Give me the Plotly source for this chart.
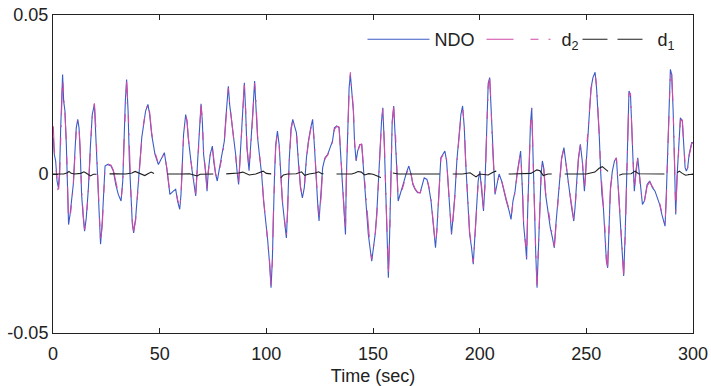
import plotly.graph_objects as go

# ---- data ----
time_ndo = [0.15, 0.6, 1.25, 1.9, 2.5, 3.1, 3.6, 4.1, 4.5, 5.0, 5.6, 6.25, 6.9, 7.3, 8.0, 8.75, 9.5, 10.3, 10.9, 11.6,
            12.2, 12.8, 13.4, 14.2, 14.8, 15.6, 16.6, 17.5, 18.4, 19.4, 20.0, 20.8, 21.6, 22.3, 23.1, 23.75, 24.4, 25.6, 27.2, 28.3,
            29.4, 30.6, 31.9, 32.7, 33.3, 33.9, 34.5, 35.2, 35.8, 36.6, 37.2, 37.8, 38.75, 39.7, 40.6, 41.6, 42.5, 43.4, 44.5, 45.3,
            46.25, 47.2, 47.8, 49.4, 50.9, 52.2, 53.3, 54.1, 54.8, 56.4, 57.5, 58.4, 59.4, 60.0, 60.6, 61.2, 62.2, 62.8, 63.4, 64.1,
            65.0, 65.9, 66.9, 67.8, 68.6, 69.4, 70.0, 70.6, 71.6, 72.2, 72.8, 73.7, 74.7, 75.3, 76.2, 77.0, 77.8, 78.7, 79.7, 80.3,
            80.9, 81.6, 82.2, 82.8, 83.7, 84.7, 85.6, 86.4, 87.0, 87.6, 88.4, 89.1, 89.7, 90.3, 90.9, 91.9, 92.8, 93.7, 94.5, 95.1,
            95.9, 96.9, 97.8, 98.7, 99.7, 100.6, 101.5, 102.2, 102.8, 103.3, 103.8, 104.4, 105.2, 106.0, 106.6, 107.5, 108.5, 109.4, 110.0, 110.7,
            111.6, 112.4, 113.2, 114.1, 115.0, 116.0, 116.9, 117.8, 118.8, 119.7, 120.8, 121.7, 122.5, 123.3, 124.1, 124.7, 125.7, 126.4, 127.5, 128.8,
            129.9, 131.0, 131.9, 133.0, 134.1, 135.0, 136.0, 136.6, 137.1, 137.5, 138.2, 138.8, 139.4, 140.0, 140.8, 141.4, 142.1, 142.8, 143.8, 144.7,
            145.5, 146.3, 147.0, 147.8, 148.6, 149.4, 150.2, 151.0, 151.8, 152.5, 153.2, 154.0, 154.6, 155.3, 155.9, 156.5, 157.2, 157.8, 158.4, 159.0,
            159.7, 160.6, 161.2, 161.8, 162.8, 163.7, 165.0, 165.9, 166.8, 167.8, 168.7, 169.7, 170.9, 172.1, 173.1, 174.0, 175.3, 176.2, 177.2, 177.8,
            178.7, 179.3, 180.0, 180.6, 181.2, 181.8, 182.8, 183.7, 184.5, 185.3, 186.2, 186.8, 187.5, 188.4, 189.3, 190.3, 191.2, 192.0, 192.8, 193.4,
            194.3, 195.3, 196.2, 197.0, 197.8, 198.6, 199.3, 200.1, 200.9, 201.8, 202.5, 203.2, 204.0, 204.7, 205.3, 205.9, 206.6, 207.2, 208.1, 209.1,
            210.3, 211.3, 212.5, 213.8, 214.7, 215.6, 216.6, 217.5, 218.4, 219.2, 220.0, 220.6, 221.6, 222.0, 222.5, 223.1, 223.8, 224.4, 225.0, 225.6,
            226.3, 226.9, 227.5, 228.1, 228.8, 229.4, 230.0, 230.9, 232.2, 233.1, 234.1, 235.0, 235.6, 236.6, 237.5, 238.4, 239.5, 240.3, 241.3, 242.2,
            243.1, 244.1, 244.7, 245.5, 246.3, 247.2, 248.1, 249.1, 249.7, 250.3, 251.3, 252.2, 253.1, 254.1, 254.8, 255.5, 256.1, 256.7, 257.3, 258.0,
            258.8, 259.4, 260.0, 260.7, 261.3, 262.2, 263.2, 264.1, 264.7, 265.7, 266.3, 266.9, 267.5, 268.2, 268.8, 269.4, 270.0, 270.7, 271.3, 271.9,
            272.5, 273.2, 274.1, 274.7, 275.3, 276.3, 277.2, 278.5, 279.7, 281.0, 282.2, 283.2, 284.4, 285.4, 286.3, 286.9, 287.5, 288.2, 288.8, 289.4,
            290.0, 290.7, 291.3, 291.9, 292.5, 293.2, 294.1, 295.0, 295.7, 296.3, 296.9, 297.5, 298.2, 298.8, 299.4, 300.0]

ndo = [0.0114, 0.0062, 0.0041, -0.0022, -0.0043, 0.0009, 0.0145, 0.0250, 0.0313, 0.0229, 0.0198, 0.0093, -0.0064, -0.0159, -0.0127, -0.0085, -0.0033, 0.0072, 0.0145, 0.0172,
       0.0145, 0.0062, -0.0064, -0.0138, -0.0180, -0.0138, -0.0043, 0.0083, 0.0187, 0.0219, 0.0145, 0.0009, -0.0117, -0.0221, -0.0148, -0.0043, 0.0025, 0.0030, 0.0025, 0.0009,
       -0.0033, -0.0064, -0.0085, -0.0022, 0.0114, 0.0229, 0.0297, 0.0198, 0.0041, -0.0085, -0.0159, -0.0185, -0.0138, -0.0054, 0.0041, 0.0114, 0.0156, 0.0198, 0.0219, 0.0187,
       0.0124, 0.0083, 0.0062, 0.0030, 0.0051, 0.0067, 0.0019, -0.0033, -0.0064, -0.0054, -0.0048, -0.0085, -0.0111, -0.0064, 0.0041, 0.0124, 0.0187, 0.0166, 0.0114, 0.0062,
       0.0020, -0.0022, -0.0069, 0.0041, 0.0145, 0.0221, 0.0166, 0.0062, 0.0000, -0.0054, 0.0010, 0.0062, 0.0088, 0.0041, 0.0000, -0.0022, 0.0010, 0.0041, 0.0072, 0.0103,
       0.0166, 0.0229, 0.0276, 0.0219, 0.0166, 0.0124, 0.0062, 0.0000, -0.0033, 0.0041, 0.0145, 0.0229, 0.0287, 0.0198, 0.0083, 0.0010, 0.0093, 0.0198, 0.0292, 0.0229,
       0.0114, 0.0051, 0.0000, -0.0085, -0.0145, -0.0205, -0.0280, -0.0358, -0.0274, -0.0116, -0.0012, 0.0093, 0.0135, 0.0093, 0.0009, -0.0085, -0.0148, -0.0201, -0.0106, 0.0041,
       0.0145, 0.0172, 0.0151, 0.0130, 0.0041, -0.0043, -0.0075, -0.0043, 0.0051, 0.0103, 0.0145, 0.0172, 0.0093, -0.0022, -0.0096, -0.0148, -0.0064, 0.0020, 0.0051, 0.0062,
       0.0083, 0.0103, 0.0145, 0.0151, 0.0145, 0.0041, -0.0064, -0.0138, -0.0190, -0.0012, 0.0145, 0.0271, 0.0313, 0.0271, 0.0198, 0.0093, 0.0041, 0.0072, 0.0093, 0.0093,
       0.0020, -0.0064, -0.0127, -0.0190, -0.0232, -0.0274, -0.0232, -0.0190, -0.0120, -0.0043, 0.0062, 0.0166, 0.0208, 0.0093, -0.0064, -0.0190, -0.0326, -0.0190, 0.0041, 0.0166,
       0.0214, 0.0114, 0.0009, -0.0085, -0.0064, -0.0043, -0.0012, 0.0009, 0.0025, 0.0000, -0.0033, -0.0048, -0.0059, -0.0059, -0.0033, -0.0012, -0.0017, -0.0043, -0.0085, -0.0127,
       -0.0169, -0.0232, -0.0169, -0.0085, 0.0009, 0.0051, 0.0062, 0.0072, 0.0041, -0.0043, -0.0127, -0.0190, -0.0138, -0.0064, 0.0041, 0.0114, 0.0187, 0.0214, 0.0145, 0.0041,
       -0.0085, -0.0190, -0.0232, -0.0284, -0.0190, -0.0085, -0.0022, 0.0009, -0.0043, -0.0116, -0.0030, 0.0120, 0.0285, 0.0303, 0.0219, 0.0093, 0.0009, -0.0064, -0.0033, 0.0000,
       -0.0022, -0.0054, -0.0085, -0.0116, -0.0143, -0.0085, -0.0054, 0.0000, 0.0041, 0.0072, -0.0043, -0.0159, -0.0232, -0.0269, -0.0116, 0.0041, 0.0156, 0.0208, 0.0041, -0.0116,
       -0.0253, -0.0358, -0.0232, -0.0096, 0.0000, 0.0041, 0.0020, -0.0064, -0.0127, -0.0169, -0.0200, -0.0232, -0.0169, -0.0085, 0.0000, 0.0051, 0.0083, 0.0041, -0.0022, -0.0064,
       -0.0106, -0.0148, -0.0106, -0.0022, 0.0051, 0.0093, 0.0041, -0.0054, 0.0010, 0.0103, 0.0198, 0.0271, 0.0303, 0.0320, 0.0270, 0.0200, 0.0114, 0.0009, -0.0064, -0.0106,
       -0.0190, -0.0274, -0.0295, -0.0169, -0.0043, 0.0009, 0.0041, 0.0051, -0.0012, -0.0106, -0.0190, -0.0253, -0.0321, -0.0190, -0.0012, 0.0166, 0.0261, 0.0250, 0.0166, 0.0041,
       -0.0054, 0.0009, 0.0051, 0.0009, -0.0043, -0.0096, -0.0085, -0.0033, -0.0022, -0.0043, -0.0054, -0.0075, -0.0096, -0.0127, -0.0148, -0.0164, -0.0064, 0.0093, 0.0251, 0.0329,
       0.0313, 0.0198, 0.0041, -0.0127, -0.0012, 0.0093, 0.0177, 0.0166, 0.0083, 0.0020, 0.0009, 0.0020, 0.0062, 0.0083, 0.0099, 0.0099]

d2 = [0.0150, 0.0075, 0.0030, -0.0035, -0.0065, -0.0005, 0.0130, 0.0240, 0.0305, 0.0240, 0.0190, 0.0100, -0.0050, -0.0150, -0.0140, -0.0090, -0.0040, 0.0060, 0.0140, 0.0168,
      0.0150, 0.0070, -0.0050, -0.0130, -0.0175, -0.0145, -0.0050, 0.0075, 0.0180, 0.0222, 0.0155, 0.0020, -0.0105, -0.0215, -0.0160, -0.0050, 0.0020, 0.0032, 0.0028, 0.0012,
      -0.0028, -0.0060, -0.0082, -0.0030, 0.0100, 0.0220, 0.0290, 0.0210, 0.0050, -0.0075, -0.0150, -0.0180, -0.0145, -0.0060, 0.0035, 0.0108, 0.0160, 0.0195, 0.0222, 0.0195,
      0.0130, 0.0088, 0.0068, 0.0032, 0.0048, 0.0064, 0.0022, -0.0028, -0.0060, -0.0057, -0.0050, -0.0080, -0.0105, -0.0070, 0.0030, 0.0115, 0.0180, 0.0170, 0.0120, 0.0065,
      0.0025, -0.0015, -0.0062, 0.0030, 0.0138, 0.0215, 0.0172, 0.0070, 0.0005, -0.0050, 0.0005, 0.0058, 0.0085, 0.0045, 0.0003, -0.0020, 0.0006, 0.0038, 0.0068, 0.0100,
      0.0160, 0.0222, 0.0270, 0.0225, 0.0170, 0.0128, 0.0068, 0.0005, -0.0030, 0.0035, 0.0140, 0.0222, 0.0280, 0.0205, 0.0090, 0.0015, 0.0088, 0.0190, 0.0285, 0.0235,
      0.0120, 0.0055, 0.0005, -0.0078, -0.0140, -0.0198, -0.0272, -0.0350, -0.0280, -0.0125, -0.0020, 0.0085, 0.0130, 0.0098, 0.0015, -0.0078, -0.0142, -0.0195, -0.0112, 0.0032,
      0.0138, 0.0168, 0.0155, 0.0132, 0.0048, -0.0038, -0.0070, -0.0048, 0.0045, 0.0098, 0.0140, 0.0168, 0.0100, -0.0015, -0.0090, -0.0142, -0.0070, 0.0015, 0.0048, 0.0060,
      0.0080, 0.0100, 0.0140, 0.0150, 0.0148, 0.0050, -0.0055, -0.0130, -0.0180, -0.0020, 0.0135, 0.0262, 0.0320, 0.0278, 0.0205, 0.0100, 0.0045, 0.0068, 0.0090, 0.0095,
      0.0028, -0.0055, -0.0120, -0.0182, -0.0225, -0.0268, -0.0238, -0.0195, -0.0128, -0.0050, 0.0055, 0.0160, 0.0205, 0.0100, -0.0055, -0.0182, -0.0318, -0.0200, 0.0030, 0.0158,
      0.0210, 0.0120, 0.0015, -0.0078, -0.0068, -0.0046, -0.0015, 0.0006, 0.0022, 0.0002, -0.0030, -0.0046, -0.0057, -0.0060, -0.0036, -0.0015, -0.0015, -0.0040, -0.0080, -0.0120,
      -0.0162, -0.0225, -0.0175, -0.0092, 0.0002, 0.0048, 0.0060, 0.0070, 0.0045, -0.0035, -0.0120, -0.0185, -0.0145, -0.0070, 0.0035, 0.0108, 0.0180, 0.0210, 0.0150, 0.0048,
      -0.0078, -0.0182, -0.0228, -0.0278, -0.0198, -0.0092, -0.0028, 0.0005, -0.0038, -0.0110, -0.0038, 0.0110, 0.0275, 0.0298, 0.0225, 0.0100, 0.0015, -0.0058, -0.0036, -0.0003,
      -0.0020, -0.0050, -0.0080, -0.0112, -0.0140, -0.0090, -0.0058, -0.0005, 0.0036, 0.0068, -0.0035, -0.0150, -0.0225, -0.0262, -0.0125, 0.0032, 0.0150, 0.0205, 0.0050, -0.0108,
      -0.0245, -0.0350, -0.0240, -0.0105, -0.0005, 0.0038, 0.0024, -0.0058, -0.0120, -0.0162, -0.0195, -0.0228, -0.0175, -0.0092, -0.0005, 0.0046, 0.0080, 0.0046, -0.0016, -0.0058,
      -0.0100, -0.0142, -0.0112, -0.0030, 0.0045, 0.0090, 0.0048, -0.0048, 0.0002, 0.0095, 0.0190, 0.0265, 0.0298, 0.0318, 0.0278, 0.0208, 0.0122, 0.0018, -0.0056, -0.0100,
      -0.0182, -0.0268, -0.0290, -0.0178, -0.0052, 0.0004, 0.0038, 0.0050, -0.0005, -0.0098, -0.0182, -0.0246, -0.0315, -0.0200, -0.0025, 0.0155, 0.0255, 0.0252, 0.0172, 0.0050,
      -0.0046, 0.0004, 0.0048, 0.0012, -0.0038, -0.0090, -0.0088, -0.0038, -0.0025, -0.0040, -0.0052, -0.0072, -0.0092, -0.0122, -0.0144, -0.0160, -0.0075, 0.0080, 0.0240, 0.0322,
      0.0318, 0.0208, 0.0052, -0.0118, -0.0020, 0.0085, 0.0170, 0.0170, 0.0090, 0.0026, 0.0012, 0.0018, 0.0058, 0.0080, 0.0096, 0.0098]

time_d1 = [0, 5, 6.5, 7.5, 8.5, 10, 13, 14.5, 15.5, 16.5, 17.5, 19, 22, 26, 30, 34, 37, 38.5, 40, 41.5,
           43, 44.5, 46, 47.5, 50, 55, 60, 64, 66, 67.5, 69, 72, 76, 80, 84, 87, 89, 90.5, 92, 95,
           97, 98.5, 100, 103, 104.5, 105.5, 106.5, 108, 110, 114, 116.5, 118, 120, 123, 124.5, 126, 130, 135, 140, 141.5,
           143, 144.5, 146, 148, 150, 152, 153.5, 155, 157, 158.5, 162, 170, 178, 186, 192, 195.5, 197, 198.3, 200, 204,
           206, 207.5, 209, 211, 215, 220, 224, 226.8, 228.3, 229.8, 232, 237, 245, 250, 254, 256, 257.5, 259, 261, 263,
           265, 267, 271, 272.8, 274.5, 280, 288, 292, 293.6, 295, 296.5, 300]
d1 = [0, 0, 0.0003, 0.0008, 0.0002, 0, 0.0002, 0.0007, 0.0003, -0.0003, -0.0006, -0.0001, 0, 0, 0.0001, 0, 0.0003, 0.0008, 0.0004, -0.0002,
      -0.0005, 0.0001, 0.0006, 0.0001, 0, 0, 0, 0.0001, -0.0003, -0.0006, -0.0001, 0, 0, 0, 0.0001, 0.0003, 0.0006, 0.0001, -0.0003, 0,
      0.0005, 0.0009, 0.0002, 0, -0.0006, -0.0018, -0.0014, -0.0003, 0, 0.0001, 0.0007, -0.0004, 0, 0.0003, 0.0007, 0.0001, 0, 0, 0, 0.0003,
      0.0008, 0.0006, -0.0003, 0.0001, -0.0001, -0.0006, -0.0011, -0.0007, 0.0001, 0.0004, 0, 0, 0, 0, 0, 0.0004, -0.0003, -0.0009, 0, -0.0003,
      0.0005, 0.0009, 0.0002, 0, 0, 0, 0.0002, 0.0013, 0.0010, -0.0005, 0, 0, 0, 0, 0.0006, 0.0018, 0.0023, 0.0015, 0.0002, -0.0007,
      -0.0005, 0, 0.0001, 0.0009, 0.0001, 0, 0, 0.0001, 0.0009, 0.0002, -0.0004, 0]

series_names = ["NDO", "d<sub>2</sub>", "d<sub>1</sub>"]
x_ticks = [0, 50, 100, 150, 200, 250, 300]
y_ticks = [-0.05, 0, 0.05]
y_tick_labels = ["-0.05", "0", "0.05"]

BLUE = "#3d5bc6"
MAGENTA = "#d04aa6"
BLACK = "#1e1e1e"
FONT = "Liberation Sans, Arial, sans-serif"
D2_DASH = "27px,17px,8px,10px,2px,10px"

fig = go.Figure()
fig.add_trace(go.Scatter(x=time_ndo, y=ndo, mode="lines", showlegend=False,
                         line=dict(color=BLUE, width=1.1)))
fig.add_trace(go.Scatter(x=time_ndo, y=d2, mode="lines", showlegend=False,
                         line=dict(color=MAGENTA, width=1.1, dash=D2_DASH)))
fig.add_trace(go.Scatter(x=time_d1, y=d1, mode="lines", showlegend=False,
                         line=dict(color=BLACK, width=1.1, dash="47px,13px")))

# legend entries, one small legend per entry so each sits where the reference has it
fig.add_trace(go.Scatter(x=[None], y=[None], mode="lines", name=series_names[0], legend="legend",
                         line=dict(color=BLUE, width=1.1)))
fig.add_trace(go.Scatter(x=[None], y=[None], mode="lines", name=series_names[1], legend="legend2",
                         line=dict(color=MAGENTA, width=1.1, dash=D2_DASH)))
fig.add_trace(go.Scatter(x=[None], y=[None], mode="lines", name=series_names[2], legend="legend3",
                         line=dict(color=BLACK, width=1.1, dash="25px,10px")))

axis_common = dict(showgrid=False, zeroline=False, showline=True, linecolor="#222",
                   linewidth=1, mirror="ticks", ticks="inside", ticklen=5, tickcolor="#222",
                   automargin=False,
                   tickfont=dict(family=FONT, size=18, color="#222"))

leg_common = dict(orientation="h", y=0.923, xanchor="left", yanchor="middle",
                  bgcolor="rgba(0,0,0,0)", font=dict(family=FONT, size=18))

fig.update_layout(
    width=711, height=386,
    margin=dict(l=53, r=18, t=15, b=53),
    paper_bgcolor="white", plot_bgcolor="white",
    font=dict(family=FONT, size=18, color="#222"),
    xaxis=dict(range=[0, 300], tickvals=x_ticks, ticklabelstandoff=4,
               title=dict(text="Time (sec)", font=dict(family=FONT, size=18), standoff=6),
               **axis_common),
    yaxis=dict(range=[-0.05, 0.05], tickvals=y_ticks, ticktext=y_tick_labels, **axis_common),
    legend=dict(x=0.4836, itemwidth=62, **leg_common),
    legend2=dict(x=0.6695, itemwidth=70, **leg_common),
    legend3=dict(x=0.8195, itemwidth=70, **leg_common),
)

fig.write_html("out.html")
